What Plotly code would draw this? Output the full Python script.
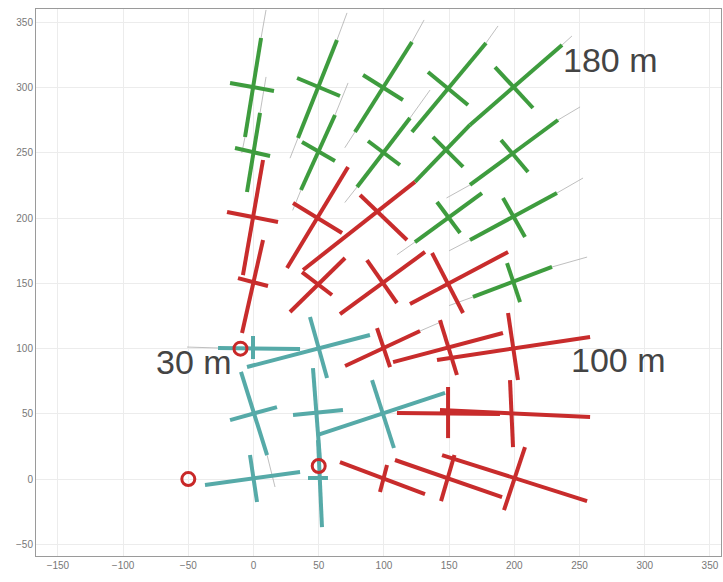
import plotly.graph_objects as go

# ---------------- data (metres) ----------------
# each segment: (x0, y0, x1, y1)
green_long = [
    (5.8, 338.2, -6.5, 262.3), (64.0, 336.7, 34.1, 261.5), (121.5, 335.1, 77.8, 266.1),
    (178.3, 334.4, 121.5, 266.1), (236.6, 332.8, 166.0, 271.5),
    (5.0, 280.7, -5.0, 220.1), (62.5, 279.1, 36.4, 221.6), (120.0, 276.8, 79.4, 223.9),
    (166.0, 271.5, 123.8, 227.8), (233.5, 275.3, 166.0, 225.5),
    (175.2, 219.3, 123.8, 181.7), (232.7, 219.3, 166.0, 183.3),
    (228.9, 162.6, 168.3, 139.6),
]
green_short = [
    (-18.0, 303.7, 15.7, 297.6), (33.4, 307.5, 66.3, 293.7), (84.0, 309.8, 114.6, 290.6),
    (133.8, 312.1, 164.5, 286.8), (185.2, 315.9, 214.3, 284.5),
    (-14.2, 253.8, 12.7, 247.7), (37.2, 258.4, 62.5, 243.9), (87.8, 259.2, 112.3, 240.8),
    (137.6, 262.3, 160.7, 239.3), (189.8, 260.0, 210.5, 235.4),
    (140.7, 212.4, 158.4, 188.7), (191.3, 215.5, 208.2, 185.6),
    (194.4, 165.6, 204.4, 135.7),
]
red_long = [
    (7.3, 244.6, -8.1, 156.4), (7.3, 183.3, -8.8, 112.0), (72.5, 239.3, 25.7, 161.8),
    (123.8, 227.8, 38.0, 160.3), (70.2, 169.5, 28.0, 128.1), (131.5, 174.1, 66.3, 126.5),
    (195.2, 174.1, 120.0, 134.2),
    (70.2, 86.7, 127.7, 113.5), (107.0, 89.7, 191.3, 112.0), (140.7, 91.3, 258.1, 108.9),
    (110.0, 50.6, 189.0, 49.8), (143.0, 52.9, 258.1, 47.5),
    (66.3, 13.0, 131.5, -11.5), (108.5, 14.6, 190.6, -13.8), (144.6, 18.4, 255.8, -16.9),
]
red_short = [
    (-20.3, 204.8, 18.8, 197.1), (-11.9, 154.1, 11.1, 148.0), (30.3, 211.7, 67.9, 188.7),
    (81.7, 217.8, 117.7, 183.3), (37.2, 158.7, 60.2, 141.1), (87.0, 167.9, 110.0, 135.0),
    (136.9, 173.3, 160.7, 127.3),
    (94.7, 115.8, 104.7, 85.9), (143.0, 121.9, 156.0, 79.8), (195.2, 127.3, 202.8, 75.9),
    (149.2, 70.6, 149.2, 31.4), (196.7, 75.9, 199.0, 24.5),
    (102.4, 10.7, 97.0, -10.0), (154.1, 18.4, 143.8, -16.9), (208.2, 24.5, 192.1, -23.8),
]
cyan_long = [
    (-27.2, 100.5, 35.7, 99.7), (-5.0, 85.9, 89.3, 110.4), (-9.6, 82.1, 10.4, 18.4),
    (45.6, 85.1, 51.0, 14.6), (48.7, 33.7, 146.9, 66.0), (-37.2, -4.6, 35.7, 5.4),
    (49.5, 29.9, 52.5, -36.8),
]
cyan_short = [
    (-0.4, 109.7, -0.4, 92.0), (43.3, 124.2, 56.4, 77.5), (-18.0, 45.2, 18.0, 55.2),
    (30.3, 49.1, 68.6, 52.9), (90.9, 75.9, 107.7, 23.8), (-2.7, 18.4, 2.7, -17.6),
    (41.8, 0.8, 57.1, 0.8),
]
gray_ext = [
    (5.8, 338.2, 9.6, 359.7), (64.0, 336.7, 71.7, 357.4), (121.5, 335.1, 130.8, 352.0),
    (178.3, 334.4, 187.5, 347.4), (236.6, 332.8, 244.2, 339.7),
    (5.0, 280.7, 9.6, 308.3), (62.5, 279.1, 72.5, 303.7), (120.0, 276.8, 135.4, 298.3),
    (233.5, 275.3, 250.4, 285.3), (166.0, 225.5, 148.0, 215.5),
    (232.7, 219.3, 252.7, 230.8), (228.9, 162.6, 255.8, 170.2),
    (-51.0, 101.2, -27.2, 100.5), (10.4, 18.4, 16.5, -6.1),
    (-6.5, 262.3, -9.0, 250.0), (34.1, 261.5, 28.0, 246.0), (77.8, 266.1, 70.0, 254.0),
    (36.4, 221.6, 30.0, 206.0), (79.4, 223.9, 70.0, 212.0),
    (123.8, 181.7, 110.0, 172.0), (166.0, 183.3, 150.0, 175.0),
    (168.3, 139.6, 150.0, 133.0), (127.7, 113.5, 145.0, 121.0),
]
source_x = [-50, -10, 50]
source_y = [0, 100, 10]

labels = ["180 m", "100 m", "30 m"]
label_x = [236, 242, -76]
label_y = [321, 91, 90]

x_ticks = [-150, -100, -50, 0, 50, 100, 150, 200, 250, 300, 350]
y_ticks = [-50, 0, 50, 100, 150, 200, 250, 300, 350]


def seg_xy(segs):
    xs, ys = [], []
    for x0, y0, x1, y1 in segs:
        xs += [x0, x1, None]
        ys += [y0, y1, None]
    return xs, ys


fig = go.Figure()

gx, gy = seg_xy(gray_ext)
fig.add_trace(go.Scatter(x=gx, y=gy, mode="lines",
                         line=dict(color="rgba(175,175,175,0.8)", width=1),
                         hoverinfo="skip", showlegend=False))

for segs, col in [(cyan_long + cyan_short, "rgb(86,170,168)"),
                  (green_long + green_short, "rgb(62,156,62)"),
                  (red_long + red_short, "rgb(200,44,44)")]:
    xs, ys = seg_xy(segs)
    fig.add_trace(go.Scatter(x=xs, y=ys, mode="lines",
                             line=dict(color=col, width=4),
                             hoverinfo="skip", showlegend=False))

fig.add_trace(go.Scatter(x=source_x, y=source_y, mode="markers",
                         marker=dict(symbol="circle-open", size=13,
                                     color="rgb(200,40,40)",
                                     line=dict(width=3, color="rgb(200,40,40)")),
                         hoverinfo="skip", showlegend=False))

for t, x, y in zip(labels, label_x, label_y):
    fig.add_annotation(x=x, y=y, text=t, showarrow=False, xanchor="left",
                       yanchor="middle",
                       font=dict(family="Liberation Sans, Arial", size=34,
                                 color="#444444"))

axis_common = dict(showgrid=True, gridcolor="#ececec", gridwidth=1,
                   zeroline=False, showline=True, linecolor="#9a9a9a",
                   linewidth=1, mirror=True, ticks="", automargin=False,
                   tickfont=dict(family="Liberation Sans, Arial", size=10,
                                 color="#777777"))

fig.update_xaxes(range=[-166.8, 358.5], tickvals=x_ticks, **axis_common)
fig.update_yaxes(range=[-59.0, 360.4], tickvals=y_ticks, **axis_common)

fig.update_layout(width=723, height=582,
                  margin=dict(l=36, r=2, t=9, b=26),
                  plot_bgcolor="white", paper_bgcolor="white",
                  hovermode=False)

fig.write_html("out.html", config={"displayModeBar": False},
               post_script="document.body.style.margin='0';"
                           "document.body.style.overflow='hidden';")
